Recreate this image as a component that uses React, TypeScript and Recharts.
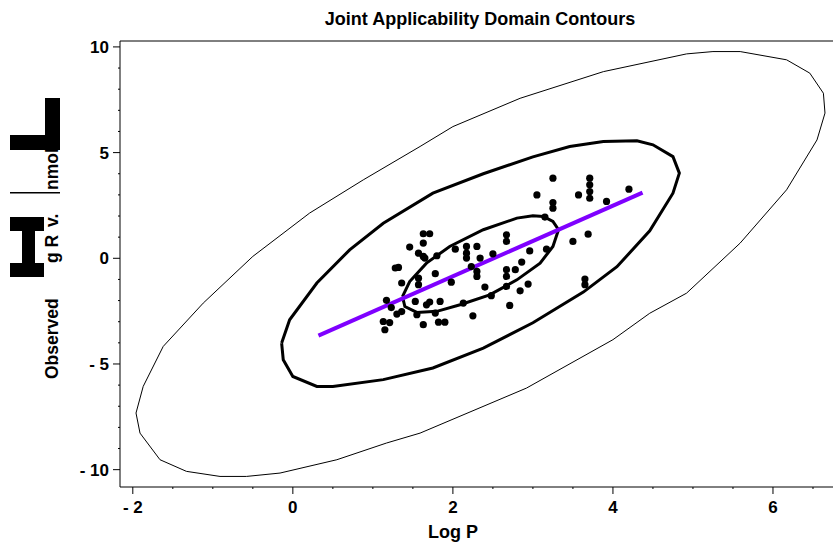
import React from 'react';
import { ComposedChart, Line, Scatter, XAxis, YAxis } from 'recharts';

// observed compounds
const logP = [
  3.25, 3.71, 3.71, 3.71, 3.71, 3.05, 3.57, 3.92, 4.2, 3.25, 3.25, 3.15, 3.5, 3.69, 3.17,
  3.65, 3.65, 1.63, 1.71, 1.46, 1.63, 1.57, 1.63, 1.65, 1.8, 2.03, 2.17, 2.17, 2.17, 2.3,
  2.34, 2.5, 2.67, 2.67, 2.96, 2.86, 2.67, 2.78, 2.67, 2.23, 2.3, 2.3, 1.28, 1.32, 1.36,
  1.57, 1.78, 1.57, 1.98, 2.4, 2.67, 2.94, 2.84, 2.48, 1.17, 1.53, 1.71, 1.67, 1.84, 2.13,
  2.71, 1.23, 1.36, 1.3, 1.55, 1.78, 2.25, 1.13, 1.21, 1.15, 1.63, 1.82, 1.9,
];
const observed = [
  3.79, 3.79, 3.48, 3.16, 2.84, 3.0, 3.0, 2.69, 3.27, 2.64, 2.37, 1.95, 0.8, 1.14, 0.43,
  -0.98, -1.25, 1.16, 1.16, 0.53, 0.72, 0.24, 0.09, 0.01, 0.12, 0.43, 0.56, 0.24, 0.01, 0.56,
  0.01, 0.21, 1.11, 0.8, 0.35, -0.18, -0.54, -0.54, -0.86, -0.39, -0.62, -0.86, -0.46, -0.43, -1.17,
  -0.94, -0.73, -1.25, -1.13, -1.36, -1.33, -1.22, -1.54, -1.77, -1.99, -2.04, -2.07, -2.2, -2.04, -2.12,
  -2.23, -2.33, -2.52, -2.64, -2.67, -2.59, -2.72, -2.99, -3.04, -3.38, -3.14, -3.02, -3.02,
];

// contour outlines as [logP, observed] pairs, closed
const outerContour = [
  [-1.96, -7.32], [-1.87, -6.06], [-1.62, -4.17], [-1.12, -2.12], [-0.5, 0.09], [0.21, 2.14],
  [0.88, 3.71], [1.59, 5.29], [2.0, 6.23], [2.84, 7.57], [3.88, 8.83], [4.92, 9.67], [5.25, 9.78],
  [5.59, 9.78], [6.17, 9.39], [6.46, 8.76], [6.63, 7.81], [6.65, 6.87], [6.55, 5.6], [6.17, 3.24],
  [5.59, 0.72], [4.92, -1.65], [4.46, -2.6], [4.0, -3.85], [2.92, -6.14], [1.59, -8.27],
  [1.17, -8.74], [0.55, -9.53], [-0.16, -10.16], [-0.58, -10.32], [-0.91, -10.32], [-1.33, -10.08],
  [-1.66, -9.53], [-1.91, -8.27], [-1.96, -7.32],
];
const middleContour = [
  [-0.14, -4.01], [-0.04, -2.91], [0.3, -1.17], [0.71, 0.4], [1.13, 1.66], [1.75, 3.08],
  [2.38, 4.0], [3.0, 4.8], [3.46, 5.29], [3.88, 5.52], [4.3, 5.56], [4.5, 5.37], [4.75, 4.81],
  [4.83, 4.03], [4.75, 3.08], [4.46, 1.3], [4.05, -0.4], [3.63, -1.6], [3.0, -3.05], [2.38, -4.25],
  [1.75, -5.19], [1.13, -5.74], [0.5, -6.06], [0.3, -6.06], [0.0, -5.59], [-0.12, -4.8],
  [-0.14, -4.01],
];
const innerContour = [
  [1.37, -1.81], [1.46, -1.1], [1.67, -0.23], [1.96, 0.56], [2.38, 1.35], [2.8, 1.9], [3.0, 2.01],
  [3.13, 1.98], [3.25, 1.74], [3.32, 1.35], [3.25, 0.56], [3.09, -0.23], [2.8, -1.02], [2.46, -1.73],
  [2.09, -2.2], [1.8, -2.51], [1.55, -2.56], [1.4, -2.28], [1.37, -1.81],
];
const fitLine = [[0.32, -3.66], [4.37, 3.11]];

const xTicks = [-2, -1.5, -1, -0.5, 0, 0.5, 1, 1.5, 2, 2.5, 3, 3.5, 4, 4.5, 5, 5.5, 6, 6.5];
const xMajor = [-2, 0, 2, 4, 6];
const yTicks = [-10, -9, -8, -7, -6, -5, -4, -3, -2, -1, 0, 1, 2, 3, 4, 5, 6, 7, 8, 9, 10];
const yMajor = [-10, -5, 0, 5, 10];

const toPts = (arr: number[][]) => arr.map(([x, y]) => ({ x, y }));
const points = logP.map((x, i) => ({ x, y: observed[i] }));

const FONT = '"Liberation Sans", Arial, sans-serif';
const fmt = (v: number) => (v < 0 ? `- ${Math.abs(v)}` : `${v}`);

const XTick = ({ x, y, payload }: any) => {
  const major = xMajor.includes(payload.value);
  return (
    <g>
      <line x1={x} x2={x} y1={y} y2={y + (major ? 7 : 2)} stroke="#000" />
      {major && (
        <text x={x} y={y + 26} textAnchor="middle" fontFamily={FONT} fontWeight="bold" fontSize={17} fill="#000">
          {fmt(payload.value)}
        </text>
      )}
    </g>
  );
};

const YTick = ({ x, y, payload }: any) => {
  const major = yMajor.includes(payload.value);
  return (
    <g>
      <line x1={x - (major ? 7 : 2)} x2={x} y1={y} y2={y} stroke="#000" />
      {major && (
        <text x={x - 11} y={y + 6} textAnchor="end" fontFamily={FONT} fontWeight="bold" fontSize={17} fill="#000">
          {fmt(payload.value)}
        </text>
      )}
    </g>
  );
};

const Dot = (props: any) => <circle cx={props.cx} cy={props.cy} r={3.6} fill="#000" />;

export default function App() {
  return (
    <div style={{ position: 'absolute', left: 0, top: 0, width: 833, height: 542, background: '#fff' }}>
      <ComposedChart width={833} height={542} margin={{ top: 41, right: 0, bottom: 25, left: 60 }}>
        <XAxis
          type="number"
          dataKey="x"
          domain={[-2.16, 6.75]}
          ticks={xTicks}
          interval={0}
          allowDataOverflow
          height={30}
          tickSize={0}
          tickMargin={0}
          tick={<XTick />}
          axisLine={{ stroke: '#000' }}
        />
        <YAxis
          type="number"
          dataKey="y"
          domain={[-10.82, 10.28]}
          ticks={yTicks}
          interval={0}
          allowDataOverflow
          width={60}
          tickSize={0}
          tickMargin={0}
          tick={<YTick />}
          axisLine={{ stroke: '#000' }}
        />
        <Line data={toPts(outerContour)} dataKey="y" type="linear" stroke="#000" strokeWidth={1} dot={false} isAnimationActive={false} />
        <Line data={toPts(middleContour)} dataKey="y" type="linear" stroke="#000" strokeWidth={3} dot={false} isAnimationActive={false} />
        <Line data={toPts(innerContour)} dataKey="y" type="linear" stroke="#000" strokeWidth={3} dot={false} isAnimationActive={false} />
        <Scatter data={points} shape={<Dot />} isAnimationActive={false} />
        <Line data={toPts(fitLine)} dataKey="y" type="linear" stroke="#7f00ff" strokeWidth={4} dot={false} isAnimationActive={false} />
      </ComposedChart>
      <svg width={833} height={542} style={{ position: 'absolute', left: 0, top: 0, pointerEvents: 'none' }}>
        <line x1={120} x2={833} y1={41} y2={41} stroke="#000" />
        <text x={480} y={25} textAnchor="middle" fontFamily={FONT} fontWeight="bold" fontSize={18}>
          Joint Applicability Domain Contours
        </text>
        <text x={453} y={538} textAnchor="middle" fontFamily={FONT} fontWeight="bold" fontSize={18}>
          Log P
        </text>
        <g fontFamily={FONT} fontWeight="bold" fontSize={17.5}>
          <text transform="translate(58,379) rotate(-90)">Observed</text>
          <text transform="translate(58,263) rotate(-90)">g R</text>
          <text transform="translate(58,227) rotate(-90)">v.</text>
          <text transform="translate(58,190) rotate(-90)">nmol</text>
        </g>
        {/* oversized glyph blocks in the axis title */}
        <rect x={10} y={217} width={34} height={14} fill="#000" />
        <rect x={10} y={263} width={34} height={14} fill="#000" />
        <rect x={22} y={231} width={13} height={32} fill="#000" />
        <rect x={10} y={192} width={50} height={1.5} fill="#000" />
        <rect x={45} y={98} width={15} height={52} fill="#000" />
        <rect x={10} y={135} width={50} height={15} fill="#000" />
      </svg>
    </div>
  );
}
